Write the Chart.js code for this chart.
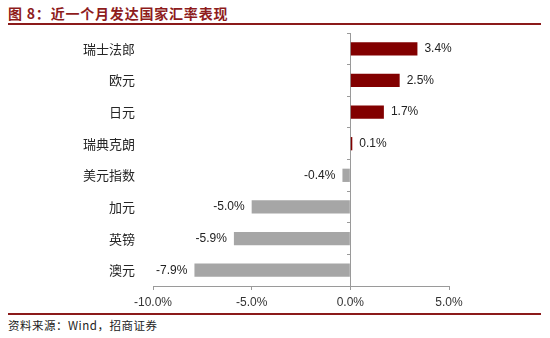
<!DOCTYPE html>
<html>
<head>
<meta charset="utf-8">
<script src="https://cdn.jsdelivr.net/npm/chart.js@4.4.1/dist/chart.umd.min.js"></script>
<style>
  body { margin: 0; width: 550px; height: 338px; background: #fff; position: relative; overflow: hidden; }
  #title { position: absolute; left: 8px; top: 3px; font: bold 14px "Noto Sans CJK SC", sans-serif; color: #8e1c1c; letter-spacing: 0.8px; }
  .rule { position: absolute; left: 8px; width: 533px; background: #8b1a1a; }
  #src { position: absolute; left: 8px; top: 317px; font: 11.5px "Noto Sans CJK SC", sans-serif; color: #222; letter-spacing: 0.5px; }
  #wrap { position: absolute; left: 0; top: 28px; }
</style>
</head>
<body>
<div id="title">图 8：近一个月发达国家汇率表现</div>
<div class="rule" style="top:23px;height:2px"></div>
<div id="wrap"><canvas id="fxChart" width="550" height="282"></canvas></div>
<div class="rule" style="top:313px;height:1.5px"></div>
<div id="src">资料来源：Wind，招商证券</div>
<script>
// currencies, change over the last month in %
var currencies = ['瑞士法郎', '欧元', '日元', '瑞典克朗', '美元指数', '加元', '英镑', '澳元'];
var changes = [3.4, 2.5, 1.7, 0.1, -0.4, -5.0, -5.9, -7.9];
var axisMin = -10, axisMax = 5, axisStep = 5;

var upColor = '#820000';
var downColor = '#a6a6a6';
var axisColor = '#9a9a9a';

// value labels next to the end of each bar
var barLabels = {
  id: 'barLabels',
  afterDatasetsDraw: function(chart) {
    var ctx = chart.ctx;
    var meta = chart.getDatasetMeta(0);
    ctx.save();
    ctx.font = '12px "Liberation Sans", Arial, sans-serif';
    ctx.fillStyle = '#222';
    ctx.textBaseline = 'middle';
    meta.data.forEach(function(bar, i) {
      var v = changes[i];
      var txt = v.toFixed(1) + '%';
      if (v >= 0) {
        ctx.textAlign = 'left';
        ctx.fillText(txt, bar.x + 7, bar.y);
      } else {
        ctx.textAlign = 'right';
        ctx.fillText(txt, bar.x - 7, bar.y);
      }
    });
    ctx.restore();
  }
};

var ctxB = document.getElementById('fxChart').getContext('2d');
var fxChart = new Chart(ctxB, {
  type: 'bar',
  data: {
    labels: currencies,
    datasets: [{
      data: changes,
      backgroundColor: changes.map(function(v) { return v >= 0 ? upColor : downColor; }),
      borderWidth: 0,
      barPercentage: 0.42,
      categoryPercentage: 1
    }]
  },
  options: {
    indexAxis: 'y',
    responsive: false,
    animation: false,
    layout: { padding: { left: 0, right: 101, top: 5, bottom: 0 } },
    plugins: {
      legend: { display: false },
      tooltip: { enabled: false }
    },
    scales: {
      x: {
        min: axisMin,
        max: axisMax,
        afterFit: function(scale) { scale.height = 24; },
        border: { display: true, color: axisColor, width: 1 },
        grid: { drawOnChartArea: false, color: axisColor, tickLength: 4 },
        ticks: {
          stepSize: axisStep,
          padding: 5,
          color: '#333',
          font: { family: '"Liberation Sans", Arial, sans-serif', size: 12 },
          callback: function(v) { return v.toFixed(1) + '%'; }
        }
      },
      y: {
        afterFit: function(scale) {
          scale.width = 153;
          scale.paddingTop = 0;
          scale.paddingBottom = 0;
        },
        border: { display: false },
        grid: { display: false },
        ticks: {
          padding: 10,
          color: '#262626',
          font: { family: '"Noto Sans CJK SC", sans-serif', size: 13 }
        }
      },
      // zero line with category tick marks
      y2: {
        type: 'category',
        position: { x: 0 },
        offset: true,
        border: { display: true, color: axisColor, width: 1 },
        grid: { offset: true, drawOnChartArea: false, color: axisColor, tickLength: 3 },
        ticks: { display: false }
      }
    }
  },
  plugins: [barLabels]
});
</script>
</body>
</html>
